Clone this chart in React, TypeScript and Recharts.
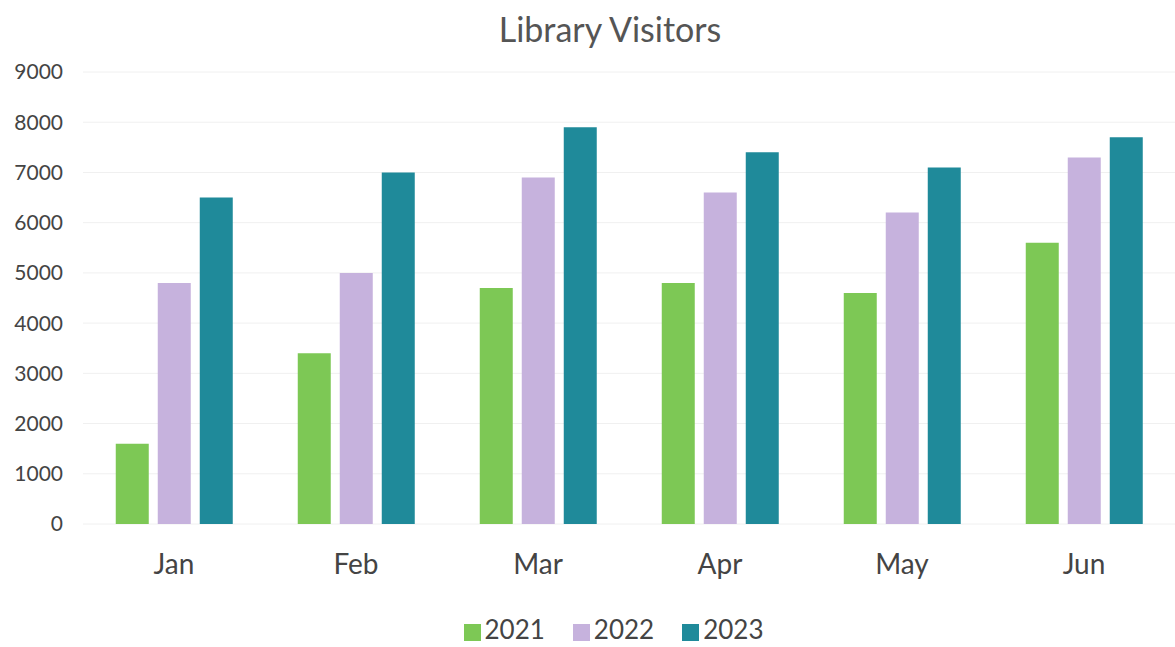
import React from "react";
import {
  BarChart, Bar, XAxis, YAxis, CartesianGrid, Legend,
} from "recharts";

const months = ["Jan", "Feb", "Mar", "Apr", "May", "Jun"];
const visitors2021 = [1600, 3400, 4700, 4800, 4600, 5600];
const visitors2022 = [4800, 5000, 6900, 6600, 6200, 7300];
const visitors2023 = [6500, 7000, 7900, 7400, 7100, 7700];
const yTicks = [0, 1000, 2000, 3000, 4000, 5000, 6000, 7000, 8000, 9000];

const data = months.map((m, i) => ({
  name: m,
  "2021": visitors2021[i],
  "2022": visitors2022[i],
  "2023": visitors2023[i],
}));

const FONT = "Lato, 'Open Sans', sans-serif";

export default function App() {
  return (
    <div style={{ position: "absolute", left: 0, top: 0, width: 1175, height: 647, background: "#fff", fontFamily: FONT }}>
      <div style={{ position: "absolute", top: 8, left: 0, width: 1220, textAlign: "center", fontSize: 34, color: "#555" }}>
        Library Visitors
      </div>
      <BarChart
        width={1175}
        height={647}
        data={data}
        margin={{ top: 72, right: 0, bottom: 2, left: 0 }}
        barCategoryGap="18%"
        barGap={9}
      >
        <CartesianGrid vertical={false} stroke="#f0f0f0" />
        <XAxis
          dataKey="name"
          axisLine={false}
          tickLine={false}
          tickSize={0}
          tickMargin={30}
          height={89}
          tick={{ fontSize: 28, fill: "#444", fontFamily: FONT }}
        />
        <YAxis
          domain={[0, 9000]}
          ticks={yTicks}
          interval={0}
          axisLine={false}
          tickLine={false}
          tickSize={0}
          tickMargin={20}
          width={83}
          tick={{ fontSize: 21, fill: "#444", fontFamily: FONT }}
        />
        <Legend
          verticalAlign="bottom"
          iconType="square"
          iconSize={17}
          wrapperStyle={{ fontSize: 26, fontFamily: FONT, color: "#444", paddingLeft: 40 }}
          formatter={(v) => <span style={{ color: "#444", marginRight: 18 }}>{v}</span>}
        />
        <Bar dataKey="2021" fill="#7dc855" isAnimationActive={false} />
        <Bar dataKey="2022" fill="#c6b2dd" isAnimationActive={false} />
        <Bar dataKey="2023" fill="#1f8a9a" isAnimationActive={false} />
      </BarChart>
    </div>
  );
}
